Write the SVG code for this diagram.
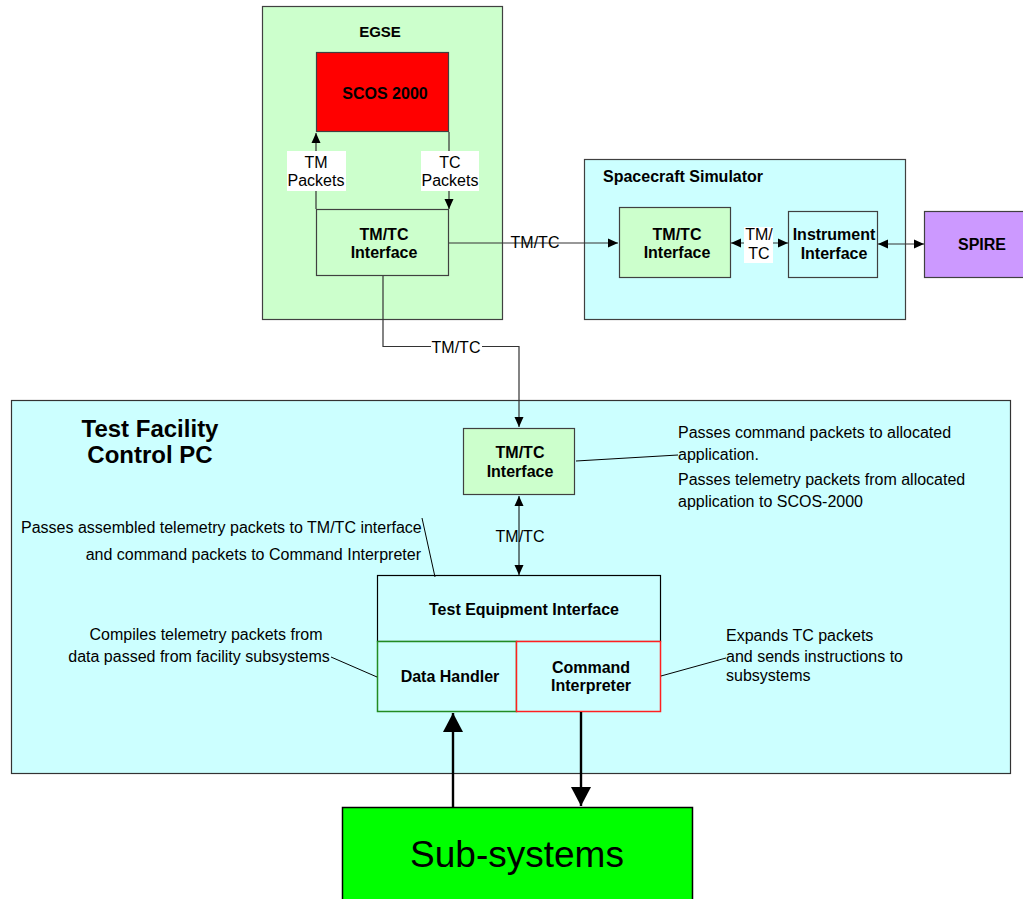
<svg xmlns="http://www.w3.org/2000/svg" width="1023" height="899" viewBox="0 0 1023 899">
<defs>
<style>
text{font-family:"Liberation Sans",Arial,sans-serif;fill:#000}
.b{font-weight:bold;font-size:16px}
.r{font-size:16px}
.c{text-anchor:middle}
.box{stroke:#404040;stroke-width:1.2}
.ln{fill:none;stroke:#333;stroke-width:1.2}
.lead{fill:none;stroke:#000;stroke-width:1}
</style>
<marker id="a" markerUnits="userSpaceOnUse" markerWidth="12" markerHeight="10" refX="10" refY="5" orient="auto-start-reverse" viewBox="0 0 12 10"><path d="M0,0.5 L10,5 L0,9.5 z" fill="#000"/></marker>
<marker id="A" markerUnits="userSpaceOnUse" markerWidth="20" markerHeight="22" refX="19" refY="10" orient="auto" viewBox="0 0 20 22"><path d="M0,0 L19,10 L0,20 z" fill="#000"/></marker>
</defs>
<rect width="1023" height="899" fill="#fff"/>

<g id="egse">
<rect class="box" x="262.5" y="6.5" width="240" height="313" fill="#ccffcc"/>
<text class="b c" x="380" y="37" style="font-size:15px">EGSE</text>
</g>
<g id="scos">
<rect class="box" x="316.5" y="52.5" width="132" height="79" fill="#ff0000"/>
<text class="b c" x="385" y="99">SCOS 2000</text>
</g>
<g id="egse-tmtc">
<rect class="box" x="316.5" y="209.5" width="132" height="66" fill="#ccffcc"/>
<text class="b c" x="384" y="240">TM/TC</text>
<text class="b c" x="384" y="258">Interface</text>
</g>

<g id="sim">
<rect class="box" x="584.5" y="159.5" width="321" height="160" fill="#ccffff"/>
<text class="b" x="603" y="182">Spacecraft Simulator</text>
</g>
<g id="sim-tmtc">
<rect class="box" x="619.5" y="207.5" width="111" height="70" fill="#ccffcc"/>
<text class="b c" x="677" y="240">TM/TC</text>
<text class="b c" x="677" y="258">Interface</text>
</g>
<g id="instr">
<rect class="box" x="788.5" y="211.5" width="89" height="66" fill="#ccffff"/>
<text class="b c" x="834" y="240">Instrument</text>
<text class="b c" x="834" y="259">Interface</text>
</g>
<g id="spire">
<rect class="box" x="924.5" y="211.5" width="110" height="66" fill="#cc99ff"/>
<text class="b c" x="982" y="250">SPIRE</text>
</g>

<g id="tfpc">
<rect x="11.5" y="400.5" width="999" height="373" fill="#ccffff" stroke="#333" stroke-width="1.2"/>
<text class="b c" x="150" y="437" style="font-size:24px">Test Facility</text>
<text class="b c" x="150" y="463" style="font-size:24px">Control PC</text>
</g>
<g id="pc-tmtc">
<rect class="box" x="463.5" y="428.5" width="111" height="66" fill="#ccffcc"/>
<text class="b c" x="520" y="458">TM/TC</text>
<text class="b c" x="520" y="477">Interface</text>
</g>
<g id="tei">
<rect x="377.5" y="575.5" width="283" height="66" fill="#ccffff" stroke="#000" stroke-width="1.2"/>
<text class="b c" x="524" y="615">Test Equipment Interface</text>
</g>
<g id="dh">
<rect x="377.5" y="641.5" width="139" height="70" fill="#ccffff" stroke="#228b22" stroke-width="1.5"/>
<text class="b c" x="450" y="682">Data Handler</text>
</g>
<g id="ci">
<rect x="516.5" y="641.5" width="144" height="70" fill="#ccffff" stroke="#ff2020" stroke-width="1.5"/>
<text class="b c" x="591" y="673">Command</text>
<text class="b c" x="591" y="691">Interpreter</text>
</g>
<g id="subsys">
<rect x="342.5" y="807.5" width="350" height="100" fill="#00ff00" stroke="#000" stroke-width="1.5"/>
<text class="c" x="517" y="867" style="font-size:37px">Sub-systems</text>
</g>

<g id="notes">
<text class="r" x="21" y="533">Passes assembled telemetry packets to TM/TC interface</text>
<text class="r" x="421" y="560" text-anchor="end">and command packets to Command Interpreter</text>
<text class="r" x="678" y="438">Passes command packets to allocated</text>
<text class="r" x="678" y="460">application.</text>
<text class="r" x="678" y="485">Passes telemetry packets from allocated</text>
<text class="r" x="678" y="507">application to SCOS-2000</text>
<text class="r c" x="206" y="640">Compiles telemetry packets from</text>
<text class="r c" x="199" y="662">data passed from facility subsystems</text>
<text class="r" x="726" y="641">Expands TC packets</text>
<text class="r" x="726" y="662">and sends instructions to</text>
<text class="r" x="726" y="681">subsystems</text>
</g>

<g id="connectors">
<line class="ln" x1="316" y1="209" x2="316" y2="133" marker-end="url(#a)"/>
<line class="ln" x1="449" y1="132" x2="449" y2="209" marker-end="url(#a)"/>
<rect x="287" y="151" width="59" height="40" fill="#fff"/>
<text class="r c" x="316" y="168">TM</text>
<text class="r c" x="316" y="186">Packets</text>
<rect x="421" y="151" width="58" height="40" fill="#fff"/>
<text class="r c" x="450" y="168">TC</text>
<text class="r c" x="450" y="186">Packets</text>

<line class="ln" x1="449" y1="243" x2="618" y2="243" marker-end="url(#a)"/>
<text class="r c" x="535" y="248">TM/TC</text>

<line class="ln" x1="731" y1="243" x2="788" y2="243" marker-start="url(#a)" marker-end="url(#a)"/>
<rect x="744" y="227" width="29" height="36" fill="#fff"/>
<text class="r c" x="759" y="240">TM/</text>
<text class="r c" x="759" y="259">TC</text>

<line class="ln" x1="878" y1="244" x2="924" y2="244" marker-start="url(#a)" marker-end="url(#a)"/>

<polyline class="ln" points="383,276 383,346.5 519,346.5 519,427" marker-end="url(#a)"/>
<rect x="431" y="338" width="51" height="18" fill="#fff"/>
<text class="r c" x="456" y="353">TM/TC</text>

<line class="lead" x1="519" y1="496" x2="519" y2="575" marker-start="url(#a)" marker-end="url(#a)"/>
<text class="r c" x="520" y="542">TM/TC</text>

<line class="lead" x1="422" y1="518" x2="435" y2="577"/>
<line class="lead" x1="576" y1="461" x2="678" y2="455"/>
<line class="lead" x1="331" y1="657" x2="377" y2="677"/>
<line class="lead" x1="661" y1="676" x2="726" y2="658"/>

<line x1="453" y1="807" x2="453" y2="713" stroke="#000" stroke-width="2.4" marker-end="url(#A)"/>
<line x1="581" y1="712" x2="581" y2="806" stroke="#000" stroke-width="2.4" marker-end="url(#A)"/>
</g>
</svg>
